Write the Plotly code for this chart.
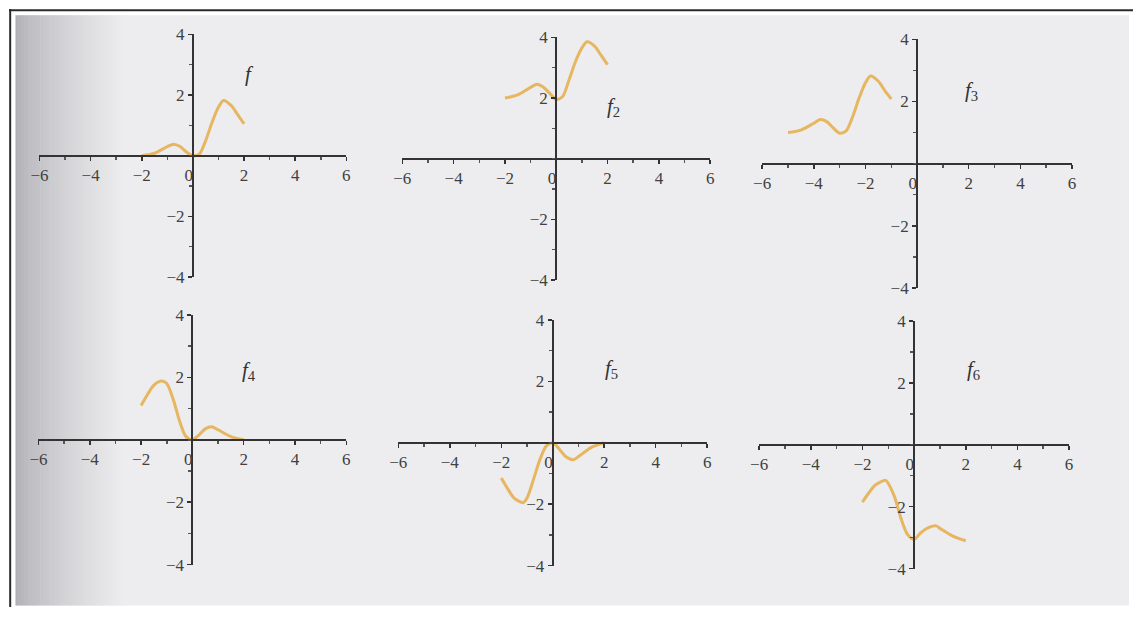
import plotly.graph_objects as go

# ---------------- data ----------------
x_f = [-2, -1.5, -1, -0.75, -0.5, -0.25, 0, 0.25, 0.5, 0.75, 1, 1.2, 1.5, 1.75, 2]
y_f = [0, 0.08, 0.3, 0.38, 0.3, 0.12, 0, 0.05, 0.5, 1.1, 1.6, 1.82, 1.65, 1.35, 1.05]

x_f2 = [-2, -1.5, -1, -0.75, -0.5, -0.25, 0, 0.25, 0.5, 0.75, 1, 1.2, 1.5, 1.75, 2]
y_f2 = [2.0, 2.1, 2.35, 2.45, 2.35, 2.15, 1.95, 2.05, 2.6, 3.2, 3.65, 3.85, 3.7, 3.4, 3.1]

x_f3 = [-5, -4.5, -4, -3.75, -3.5, -3.25, -3, -2.75, -2.5, -2.25, -2, -1.8, -1.5, -1.25, -1]
y_f3 = [1.0, 1.08, 1.3, 1.42, 1.35, 1.15, 0.98, 1.05, 1.5, 2.1, 2.6, 2.82, 2.65, 2.35, 2.08]

x_f4 = [-2, -1.75, -1.5, -1.2, -1, -0.75, -0.5, -0.25, 0, 0.25, 0.5, 0.75, 1, 1.5, 2]
y_f4 = [1.1, 1.45, 1.75, 1.88, 1.8, 1.3, 0.6, 0.1, 0, 0.15, 0.35, 0.42, 0.32, 0.1, 0]

x_f5 = [-2, -1.75, -1.5, -1.15, -1, -0.75, -0.5, -0.25, 0, 0.25, 0.5, 0.8, 1, 1.5, 2]
y_f5 = [-1.15, -1.5, -1.8, -1.95, -1.8, -1.2, -0.55, -0.1, 0, -0.2, -0.45, -0.55, -0.45, -0.15, 0]

x_f6 = [-2, -1.75, -1.5, -1.1, -1, -0.75, -0.5, -0.25, 0, 0.25, 0.5, 0.85, 1, 1.5, 2]
y_f6 = [-1.85, -1.55, -1.3, -1.15, -1.25, -1.7, -2.4, -2.9, -3.05, -2.85, -2.7, -2.62, -2.7, -2.95, -3.1]

labels = ["<i>f</i>", "<i>f</i><sub>2</sub>", "<i>f</i><sub>3</sub>",
          "<i>f</i><sub>4</sub>", "<i>f</i><sub>5</sub>", "<i>f</i><sub>6</sub>"]
label_x = [2.2, 2.25, 2.1, 2.2, 2.3, 2.3]
label_y = [2.7, 1.7, 2.35, 2.2, 2.4, 2.4]

x_ticks = [-6, -4, -2, 0, 2, 4, 6]
x_ticktext = ["\u22126", "\u22124", "\u22122", "0\u00a0\u00a0", "2", "4", "6"]
y_ticks = [-4, -2, 2, 4]
y_ticktext = ["\u22124", "\u22122", "2", "4"]

series = [(x_f, y_f), (x_f2, y_f2), (x_f3, y_f3), (x_f4, y_f4), (x_f5, y_f5), (x_f6, y_f6)]

# ---------------- layout geometry (target pixels in the picture) ----------------
W, H = 1137, 617
# the photographed page is padded and slightly shrunk; map target pixels back
OX, SX, OY, SY = 7.5, 0.989, 7.6, 0.974


def fx(t):
    return max(0.0, min(1.0, (t - OX) / SX / W))


def fy(t):
    return max(0.0, min(1.0, 1 - (t - OY) / SY / H))


panels = [
    (38, 345, 33, 277),
    (401, 709, 36, 280),
    (761, 1071, 38, 288),
    (37, 345, 315, 566),
    (397, 706, 320, 567),
    (758, 1068, 321, 570),
]

fig = go.Figure()
shapes = []

# page background (scan) with left shadow gradient
page_x0, page_x1, page_y0, page_y1 = 14, 1128, 14, 607
shapes.append(dict(type="rect", xref="paper", yref="paper",
                   x0=fx(page_x0), x1=fx(page_x1), y0=fy(page_y1), y1=fy(page_y0),
                   fillcolor="#ededef", line=dict(width=0), layer="below"))
n_band = 40
grad_w = 110
c0 = (176, 176, 181)
c1 = (237, 237, 239)
for i in range(n_band):
    t = i / (n_band - 1)
    t2 = t ** 0.7
    col = tuple(int(round(c0[k] + (c1[k] - c0[k]) * t2)) for k in range(3))
    bx0 = page_x0 + grad_w * i / n_band
    bx1 = page_x0 + grad_w * (i + 1) / n_band + 0.5
    shapes.append(dict(type="rect", xref="paper", yref="paper",
                       x0=fx(bx0), x1=fx(bx1), y0=fy(page_y1), y1=fy(page_y0),
                       fillcolor="rgb(%d,%d,%d)" % col, line=dict(width=0), layer="below"))
# frame lines (as close to the edge as the page allows)
shapes.append(dict(type="line", xref="paper", yref="paper", x0=0, x1=1,
                   y0=1 - 1.2 / H, y1=1 - 1.2 / H, line=dict(color="#2a2a2a", width=2), layer="above"))
shapes.append(dict(type="line", xref="paper", yref="paper", x0=1.2 / W, x1=1.2 / W,
                   y0=0, y1=1, line=dict(color="#2a2a2a", width=2), layer="above"))

annotations = []
axis_font = dict(family="Liberation Serif, DejaVu Serif, serif", size=17, color="#404040")

for i, ((xs, ys), (px0, px1, pyt, pyb)) in enumerate(zip(series, panels)):
    n = i + 1
    xa = "x" if n == 1 else "x%d" % n
    ya = "y" if n == 1 else "y%d" % n
    xdom = [fx(px0), fx(px1)]
    ydom = [fy(pyb), fy(pyt)]
    fig.add_trace(go.Scatter(
        x=xs, y=ys, xaxis=xa, yaxis=ya, mode="lines",
        line=dict(color="rgba(228,172,72,0.85)", width=3, shape="spline", smoothing=0.8),
        showlegend=False, hoverinfo="skip"))
    xkey = "xaxis" if n == 1 else "xaxis%d" % n
    ykey = "yaxis" if n == 1 else "yaxis%d" % n
    fig.layout[xkey] = dict(
        domain=xdom, range=[-6, 6], anchor="free", position=(ydom[0] + ydom[1]) / 2,
        showline=True, linecolor="#333333", linewidth=2, showgrid=False, zeroline=False,
        tickmode="array", tickvals=x_ticks, ticktext=x_ticktext,
        ticks="outside", ticklen=4, tickwidth=1.5, tickcolor="#333333",
        minor=dict(dtick=1, tick0=0, ticks="outside", ticklen=3, tickcolor="#555555", showgrid=False),
        tickfont=axis_font, fixedrange=True)
    fig.layout[ykey] = dict(
        domain=ydom, range=[-4, 4], anchor="free", position=(xdom[0] + xdom[1]) / 2,
        showline=True, linecolor="#333333", linewidth=2, showgrid=False, zeroline=False,
        tickmode="array", tickvals=y_ticks, ticktext=y_ticktext,
        ticks="outside", ticklen=4, tickwidth=1.5, tickcolor="#333333",
        minor=dict(dtick=1, tick0=0, ticks="outside", ticklen=3, tickcolor="#555555", showgrid=False),
        tickfont=axis_font, fixedrange=True)
    annotations.append(dict(
        x=label_x[i], y=label_y[i], xref=xa, yref=ya, text=labels[i], showarrow=False,
        font=dict(family="Liberation Serif, DejaVu Serif, serif", size=21, color="#333333")))

fig.update_layout(
    width=W, height=H, margin=dict(l=0, r=0, t=0, b=0),
    paper_bgcolor="white", plot_bgcolor="rgba(0,0,0,0)",
    shapes=shapes, annotations=annotations, showlegend=False)

fig.write_html("out.html",
               config={"displayModeBar": False, "staticPlot": True},
               post_script="document.documentElement.style.margin='0';"
                           "document.body.style.margin='0';"
                           "document.body.style.padding='0';"
                           "document.body.style.overflow='hidden';"
                           "var d=document.getElementById('{plot_id}');"
                           "d.style.position='fixed';d.style.left='0px';d.style.top='0px';")
